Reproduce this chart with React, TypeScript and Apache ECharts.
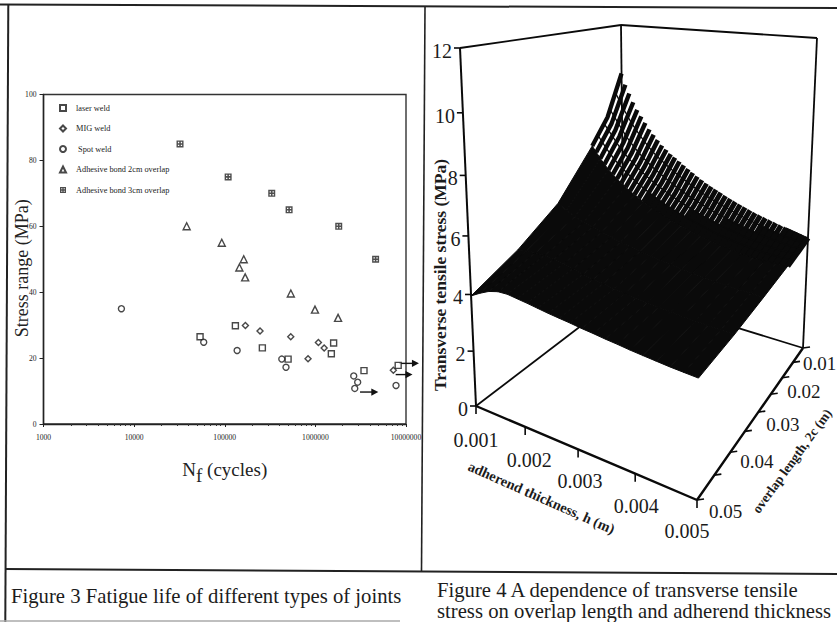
import React, { useEffect, useRef } from "react";
import * as echarts from "echarts";

const FONT = "'Liberation Serif', serif";

// Figure 3: [cycles, stress range MPa]
const laserWeld = [[53400, 26.5], [131000, 29.8], [260000, 23.1], [500000, 19.7], [1500000, 21.3], [1590000, 24.6], [3440000, 16.2], [8200000, 17.8]];
const migWeld = [[169000, 29.9], [245000, 28.2], [535000, 26.5], [1080000, 24.7], [1250000, 23.1], [830000, 19.8], [7250000, 16.3]];
const spotWeld = [[7240, 35], [58600, 24.8], [137000, 22.3], [426000, 19.7], [474000, 17.2], [2650000, 14.6], [2930000, 12.7], [2720000, 10.8], [7760000, 11.7]];
const adhesive2cm = [[38000, 60], [92700, 55], [162000, 50], [145000, 47.5], [168000, 44.5], [536000, 39.6], [990000, 34.7], [1780000, 32.2]];
const adhesive3cm = [[32100, 85], [109000, 75], [330000, 70], [513000, 65], [1810000, 60], [4620000, 50]];
const runouts = [[3110000, 4950000, 9.7], [7690000, 11800000, 15], [8380000, 13900000, 18.4]];
const legendNames = ["laser weld", "MIG weld", " Spot weld", "Adhesive bond 2cm overlap", "Adhesive bond 3cm overlap"];

// Figure 4: surface values (MPa)
const thicknessSteps = [0.001, 0.0012, 0.0014, 0.0016, 0.0018, 0.002, 0.0022, 0.0024, 0.0026, 0.0028, 0.003, 0.0032, 0.0034, 0.0036, 0.0038, 0.004, 0.0042, 0.0044, 0.0046, 0.0048, 0.005];
const overlapSteps = [0.05, 0.04, 0.03, 0.02, 0.018, 0.016, 0.014, 0.012, 0.01];
const stressC050 = [3.95, 4.15, 4.32, 4.42, 4.44, 4.4, 4.36, 4.31, 4.26, 4.22, 4.18, 4.13, 4.09, 4.04, 4.0, 3.95, 3.91, 3.87, 3.83, 3.8, 3.77];
const stressC040 = [4.7, 4.75, 4.78, 4.77, 4.72, 4.65, 4.58, 4.5, 4.43, 4.37, 4.31, 4.26, 4.21, 4.16, 4.12, 4.08, 4.04, 4.01, 3.98, 3.95, 3.93];
const stressC030 = [5.7, 5.5, 5.35, 5.2, 5.1, 5.0, 4.9, 4.8, 4.72, 4.64, 4.57, 4.5, 4.44, 4.39, 4.34, 4.29, 4.25, 4.21, 4.18, 4.15, 4.12];
const stressC020 = [7.4, 6.95, 6.55, 6.25, 5.98, 5.75, 5.55, 5.37, 5.2, 5.05, 4.92, 4.8, 4.69, 4.59, 4.5, 4.43, 4.38, 4.34, 4.32, 4.31, 4.3];
const stressC018 = [7.7, 7.25, 6.85, 6.53, 6.25, 6.0, 5.78, 5.58, 5.4, 5.24, 5.1, 4.97, 4.85, 4.73, 4.63, 4.55, 4.48, 4.42, 4.38, 4.36, 4.35];
const stressC016 = [8.1, 7.65, 7.2, 6.85, 6.55, 6.27, 6.03, 5.82, 5.63, 5.45, 5.28, 5.13, 5.0, 4.87, 4.77, 4.67, 4.58, 4.5, 4.45, 4.42, 4.4];
const stressC014 = [8.6, 8.1, 7.6, 7.2, 6.85, 6.55, 6.3, 6.06, 5.85, 5.65, 5.47, 5.3, 5.15, 5.02, 4.9, 4.79, 4.69, 4.6, 4.53, 4.48, 4.44];
const stressC012 = [9.2, 8.6, 8.05, 7.6, 7.2, 6.85, 6.58, 6.33, 6.1, 5.88, 5.68, 5.5, 5.35, 5.2, 5.06, 4.93, 4.82, 4.72, 4.62, 4.55, 4.49];
const stressC010 = [10.0, 9.2, 8.55, 8.05, 7.6, 7.2, 6.9, 6.65, 6.4, 6.15, 5.93, 5.75, 5.57, 5.4, 5.25, 5.1, 4.98, 4.87, 4.76, 4.65, 4.54];
const surfaceRows = [stressC050, stressC040, stressC030, stressC020, stressC018, stressC016, stressC014, stressC012, stressC010];

// finer mesh lines visible at the steep back edge
const ribThickness = [0.001, 0.0011, 0.0012, 0.0013, 0.0014, 0.0015, 0.0016, 0.0017, 0.0018, 0.0019, 0.002, 0.0021, 0.0022, 0.0023, 0.0024, 0.0025, 0.0026, 0.0027, 0.0028, 0.0029, 0.003, 0.0031, 0.0032, 0.0033, 0.0034, 0.0035, 0.0036, 0.0037, 0.0038, 0.0039, 0.004, 0.0041, 0.0042, 0.0043, 0.0044, 0.0045, 0.0046, 0.0047, 0.0048, 0.0049, 0.005];
const ribC020 = [7.4, 7.17, 6.95, 6.74, 6.55, 6.4, 6.25, 6.11, 5.98, 5.86, 5.75, 5.65, 5.55, 5.46, 5.37, 5.28, 5.2, 5.12, 5.05, 4.98, 4.92, 4.86, 4.8, 4.74, 4.69, 4.64, 4.59, 4.54, 4.5, 4.46, 4.43, 4.4, 4.38, 4.36, 4.34, 4.33, 4.32, 4.31, 4.31, 4.3, 4.3];
const ribC015 = [8.35, 8.1, 7.87, 7.63, 7.4, 7.2, 7.03, 6.86, 6.7, 6.55, 6.41, 6.29, 6.17, 6.05, 5.94, 5.84, 5.74, 5.64, 5.55, 5.46, 5.37, 5.29, 5.21, 5.14, 5.07, 5.0, 4.94, 4.88, 4.83, 4.78, 4.73, 4.68, 4.63, 4.59, 4.55, 4.52, 4.49, 4.47, 4.45, 4.43, 4.42];
const ribC010 = [10.0, 9.55, 9.2, 8.85, 8.55, 8.3, 8.05, 7.8, 7.6, 7.4, 7.2, 7.05, 6.9, 6.78, 6.65, 6.52, 6.4, 6.27, 6.15, 6.04, 5.93, 5.84, 5.75, 5.66, 5.57, 5.48, 5.4, 5.32, 5.25, 5.17, 5.1, 5.04, 4.98, 4.92, 4.87, 4.81, 4.76, 4.7, 4.65, 4.6, 4.54];

const zTicks = [0, 2, 4, 6, 8, 10, 12];
const hTicks = ["0.001", "0.002", "0.003", "0.004", "0.005"];
const cLabels = ["0.01", "0.02", "0.03", "0.04", "0.05"];
const cMinorTicks = [0.01, 0.015, 0.02, 0.025, 0.03, 0.035, 0.04, 0.045, 0.05];

// view of the 3D box
type Pt = [number, number];
function quad(p00: Pt, p10: Pt, p11: Pt, p01: Pt) {
  const sx = p00[0] - p10[0] + p11[0] - p01[0];
  const sy = p00[1] - p10[1] + p11[1] - p01[1];
  const dx1 = p10[0] - p11[0], dx2 = p01[0] - p11[0], dy1 = p10[1] - p11[1], dy2 = p01[1] - p11[1];
  const det = dx1 * dy2 - dx2 * dy1;
  const g = (sx * dy2 - dx2 * sy) / det;
  const k = (dx1 * sy - sx * dy1) / det;
  const a = p10[0] - p00[0] + g * p10[0], b = p01[0] - p00[0] + k * p01[0];
  const d = p10[1] - p00[1] + g * p10[1], e = p01[1] - p00[1] + k * p01[1];
  return (u: number, v: number): Pt => {
    const w = 1 + g * u + k * v;
    return [(p00[0] + a * u + b * v) / w, (p00[1] + d * u + e * v) / w];
  };
}
const floorView = quad([476, 406], [697, 500], [803, 348], [624, 293]);
const topView = quad([460, 48], [702, 84], [817, 38], [621, 25]);
const U = (h: number) => echarts.number.linearMap(h, [0.001, 0.005], [0, 1]);
const V = (c: number) => echarts.number.linearMap(c, [0.05, 0.01], [0, 1]);
function project(h: number, c: number, z: number): Pt {
  const u = U(h), v = V(c), w = z / 12;
  const f = w / (1 + 0.105 * (1 - w));
  const a = floorView(u, v), b = topView(u, v);
  return [a[0] + (b[0] - a[0]) * f, a[1] + (b[1] - a[1]) * f];
}
const H0 = 0.001, H1 = 0.005, C0 = 0.05, C1 = 0.01;
const backFrame: [number, number, number, number, number, number][] = [
  [H0, C0, 12, H0, C1, 12], [H0, C1, 12, H1, C1, 12], [H0, C1, 0, H0, C1, 12], [H1, C1, 0, H1, C1, 12],
  [H0, C0, 0, H0, C1, 0], [H0, C1, 0, H1, C1, 0],
];
const seg = (x: any[]) => [project(x[0], x[1], x[2]), project(x[3], x[4], x[5])];
const gridPoint = (i: number, r: number) => project(thicknessSteps[i], overlapSteps[r], surfaceRows[r][i]);

// cells left unfilled near the steep back edge, per row
const openCells = [0, 0, 0, 6, 10, 13, 16, 18];
const surfaceCells: number[][] = [];
for (let r = 0; r < overlapSteps.length - 1; r++) for (let i = 0; i < thicknessSteps.length - 1; i++) if (i >= openCells[r]) surfaceCells.push([i, r]);

function panel4Series(): any[] {
  const line = (pts: Pt[], w: number, cap = "butt") => ({ type: "polyline", shape: { points: pts }, style: { stroke: "#0a0a0a", fill: null, lineWidth: w, lineCap: cap, lineJoin: "miter" }, silent: true });
  const txt = (text: string, x: number, y: number, font: string, align = "center", rotation = 0) => ({
    type: "text", x, y, rotation, silent: true,
    style: { text, font, fill: "#1a1a1a", textAlign: align, textVerticalAlign: "middle" },
  });
  const base = { type: "custom", coordinateSystem: "none", silent: true, animation: false, clip: false, legendHoverLink: false };
  return [
    { ...base, name: "box", data: backFrame.map((_, i) => [i]), renderItem: (_: any, api: any) => line(seg(backFrame[api.value(0)]), 1.8) },
    {
      ...base, name: "surface", data: surfaceCells,
      renderItem: (_: any, api: any) => {
        const i = api.value(0), r = api.value(1);
        return { type: "polygon", silent: true, shape: { points: [gridPoint(i, r), gridPoint(i + 1, r), gridPoint(i + 1, r + 1), gridPoint(i, r + 1)] }, style: { fill: "#0a0a0a", stroke: "#0a0a0a", lineWidth: 1 } };
      },
    },
    {
      ...base, name: "surface ribs", data: ribThickness.map((_, i) => [i]),
      renderItem: (_: any, api: any) => {
        const i = api.value(0), h = ribThickness[i];
        return line([project(h, 0.02, ribC020[i]), project(h, 0.015, ribC015[i]), project(h, 0.01, ribC010[i])], 4.3 + i * 0.03);
      },
    },
    {
      ...base, name: "surface cross", data: [4, 5, 6, 7].map((r) => [r]),
      renderItem: (_: any, api: any) => line(thicknessSteps.map((_h, i) => gridPoint(i, api.value(0))), 1.3),
    },
    { ...base, name: "axis h", data: [[0]], renderItem: () => line([project(H0, C0, 0), project(0.002, C0, 0), project(0.003, C0, 0), project(0.004, C0, 0), project(H1, C0, 0)], 2.4) },
    { ...base, name: "axis c", data: [[0]], renderItem: () => line([project(H1, C0, 0), project(H1, 0.03, 0), project(H1, C1, 0)], 2.4) },
    { ...base, name: "axis z", data: [[0]], renderItem: () => line([project(H0, C0, 0), project(H0, C0, 12)], 2) },
    {
      ...base, name: "z ticks", data: zTicks.map((z) => [z]),
      renderItem: (_: any, api: any) => {
        const z = api.value(0); const p = project(H0, C0, z);
        return { type: "group", children: [line([[p[0] - 6, p[1]], [p[0], p[1]]], 1.6), txt(String(z), p[0] - 8, p[1] + 3, `20px ${FONT}`, "right")] };
      },
    },
    {
      ...base, name: "h ticks", data: hTicks.map((_, i) => [i]),
      renderItem: (_: any, api: any) => {
        const i = api.value(0); const p = project(Number(hTicks[i]), C0, 0);
        const dx = [0, 4, 2, 1, -10][i];
        return { type: "group", children: [line([[p[0], p[1]], [p[0], p[1] + 8]], 1.6), txt(hTicks[i], p[0] + dx, p[1] + [34, 33, 32, 32, 31][i], `20px ${FONT}`)] };
      },
    },
    {
      ...base, name: "c ticks", data: cMinorTicks.map((c) => [c]),
      renderItem: (_: any, api: any) => {
        const p = project(H1, api.value(0), 0);
        return line([[p[0], p[1]], [p[0] + 7, p[1] - 1]], 1.6);
      },
    },
    {
      ...base, name: "c labels", data: cLabels.map((_, i) => [i]),
      renderItem: (_: any, api: any) => {
        const i = api.value(0); const p = project(H1, Number(cLabels[i]), 0);
        const dx = [0, 5, 8, 10, 12][i], dy = [15, 14, 12, 9, 11][i];
        return txt(cLabels[i], p[0] + dx, p[1] + dy, `19px ${FONT}`, "left");
      },
    },
  ];
}

const line = (x1: number, y1: number, x2: number, y2: number, w = 2, c = "#222") => ({ type: "line", silent: true, shape: { x1, y1, x2, y2 }, style: { stroke: c, lineWidth: w } });
const txt = (text: string, x: number, y: number, font: string, rotation = 0, align = "left") => ({
  type: "text", x, y, rotation, silent: true, style: { text, font, fill: "#1c1c1c", textAlign: align, textVerticalAlign: "middle" },
});

const hollow = { color: "#fff", borderColor: "#1a1a1a", borderWidth: 1.4 };
const cellSquare = "path://M0 0H10V10H0Z M2 2V3.9H3.9V2Z M6.1 2V3.9H8V2Z M2 6.1V8H3.9V6.1Z M6.1 6.1V8H8V6.1Z";

export default function App() {
  const ref = useRef<HTMLDivElement>(null);
  useEffect(() => {
    const chart = echarts.init(ref.current!, undefined, { renderer: "svg" });
    const scatterBase = { type: "scatter", xAxisIndex: 0, yAxisIndex: 0, clip: false, silent: true };
    chart.setOption({
      animation: false,
      backgroundColor: "#fff",
      grid: { left: 43.5, top: 94.5, width: 362.5, height: 329.5, show: true, backgroundColor: "#fff", borderColor: "#333", borderWidth: 1.4 },
      legend: {
        left: 59, top: 104, padding: 0, orient: "vertical", itemWidth: 6, itemHeight: 6, itemGap: 12.5, selectedMode: false,
        data: legendNames, textStyle: { fontFamily: FONT, fontSize: 8.3, color: "#222", padding: [6, 0, 0, 5] },
      },
      xAxis: {
        type: "log", logBase: 10, min: 1000, max: 10000000,
        name: "{a|N}{b|f}{a| (cycles)}", nameLocation: "middle", nameGap: 36, nameMoveOverlap: false,
        nameTextStyle: {
          rich: {
            a: { fontFamily: FONT, fontSize: 19, color: "#222", lineHeight: 25, verticalAlign: "top" },
            b: { fontFamily: FONT, fontSize: 19, color: "#222", lineHeight: 25, verticalAlign: "bottom" },
          },
        },
        splitLine: { show: false },
        axisLine: { show: true, onZero: false, lineStyle: { color: "#222", width: 1.4 } },
        axisTick: { show: true, inside: false, length: 3, lineStyle: { color: "#222", width: 1 } },
        minorTick: { show: true, splitNumber: 9, length: 2, lineStyle: { color: "#333" } },
        axisLabel: { fontFamily: FONT, fontSize: 7.6, color: "#222", margin: 9, formatter: (v: number) => String(Math.round(v)), showMinLabel: true, showMaxLabel: true },
      },
      yAxis: {
        type: "value", min: 0, max: 100, interval: 20,
        name: "Stress range (MPa)", nameLocation: "middle", nameGap: 13, nameMoveOverlap: false,
        nameTextStyle: { fontFamily: FONT, fontSize: 18, color: "#222", padding: [0, 18, 0, 0], align: "center" },
        splitLine: { show: false },
        axisLine: { show: true, lineStyle: { color: "#222", width: 1.4 } },
        axisTick: { show: true, length: 4, lineStyle: { color: "#222", width: 1 } },
        axisLabel: { fontFamily: FONT, fontSize: 7.6, color: "#222", margin: 7 },
      },
      series: [
        { ...scatterBase, name: legendNames[0], data: laserWeld, symbol: "rect", symbolSize: 6, itemStyle: hollow },
        { ...scatterBase, name: legendNames[1], data: migWeld, symbol: "diamond", symbolSize: 6, itemStyle: hollow },
        { ...scatterBase, name: legendNames[2], data: spotWeld, symbol: "circle", symbolSize: 6, itemStyle: hollow },
        { ...scatterBase, name: legendNames[3], data: adhesive2cm, symbol: "triangle", symbolSize: 7, itemStyle: hollow },
        { ...scatterBase, name: legendNames[4], data: adhesive3cm, symbol: cellSquare, symbolSize: 7, itemStyle: { color: "#222", borderWidth: 0 } },
        {
          type: "custom", name: "run-outs", coordinateSystem: "cartesian2d", xAxisIndex: 0, yAxisIndex: 0, clip: false, silent: true,
          encode: { x: 0, y: 2 }, data: runouts,
          renderItem: (_: any, api: any) => {
            const a = api.coord([api.value(0), api.value(2)]), b = api.coord([api.value(1), api.value(2)]);
            return {
              type: "group", silent: true,
              children: [
                { type: "line", shape: { x1: a[0], y1: a[1], x2: b[0] - 5, y2: b[1] }, style: { stroke: "#111", lineWidth: 1.4 } },
                { type: "polygon", shape: { points: [[b[0], b[1]], [b[0] - 7, b[1] - 3.6], [b[0] - 7, b[1] + 3.6]] }, style: { fill: "#111" } },
              ],
            };
          },
        },
        ...panel4Series(),
      ],
      graphic: [
        line(0, 4.5, 837, 8),
        line(8.3, 4.5, 5.3, 622),
        line(425, 7, 421.5, 572, 1.6),
        line(5, 569, 837, 574),
        line(0, 621, 400, 621, 1.5, "#aaa"),
        txt("Figure 3 Fatigue life of different types of joints", 11, 596, `20.7px ${FONT}`),
        txt("Figure 4 A dependence of transverse tensile", 437, 590, `20.7px ${FONT}`),
        txt("stress on overlap length and adherend thickness", 437, 610.5, `20.7px ${FONT}`),
        txt("Transverse tensile stress (MPa)", 440, 275, `bold 17.5px ${FONT}`, Math.PI / 2, "center"),
        txt("adherend thickness, h (m)", 541.5, 497.5, `bold 14.4px ${FONT}`, -0.417, "center"),
        txt("overlap length, 2c (m)", 792, 461, `bold 13.4px ${FONT}`, 0.943, "center"),
      ],
    });
    return () => chart.dispose();
  }, []);
  return <div ref={ref} style={{ position: "absolute", left: 0, top: 0, width: 837, height: 622 }} />;
}
